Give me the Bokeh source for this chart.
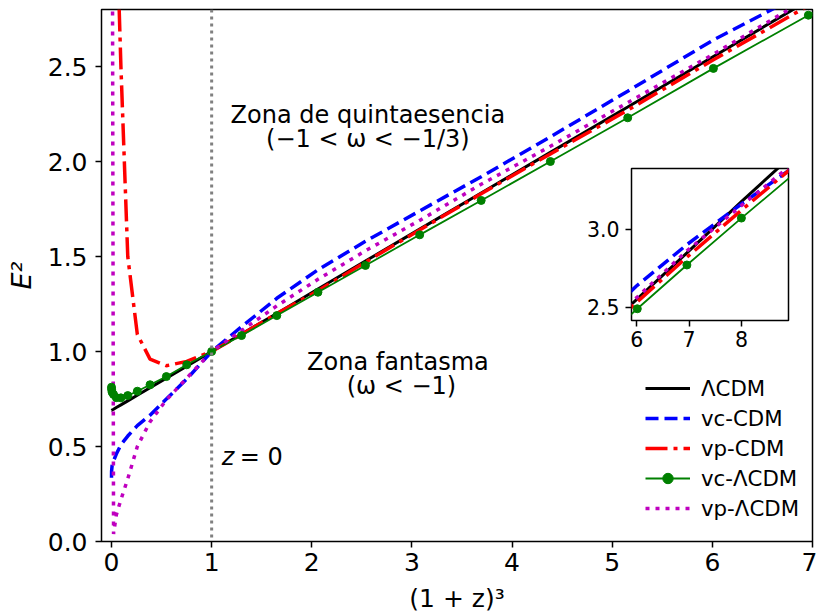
from bokeh.plotting import figure
from bokeh.models import Range1d, FixedTicker, Span, Label, Legend, LegendItem, PrintfTickFormatter
from bokeh.layouts import column
from bokeh.embed import file_html
from bokeh.resources import INLINE

# ---------------- data ----------------
x_grid = [0.0, 0.00075, 0.006, 0.0203, 0.0481, 0.0939, 0.1623, 0.2577, 0.3847,
          0.5477, 0.7513, 1.0, 1.2983, 1.6506, 2.0616, 2.5356, 3.0774, 3.6915,
          4.3824, 5.1547, 6.0105, 6.9587, 8.0, 9.1405]
e2_lcdm = [0.69, 0.69, 0.692, 0.696, 0.705, 0.719, 0.74, 0.77, 0.809, 0.86, 0.923,
           1.0, 1.092, 1.2, 1.329, 1.476, 1.644, 1.834, 2.048, 2.287, 2.553, 2.847,
           3.175, 3.524]
e2_vc_cdm = [0.335, 0.37, 0.40, 0.425, 0.46, 0.51, 0.555, 0.61, 0.665, 0.75, 0.855,
             1.0, 1.13, 1.28, 1.43, 1.58, 1.74, 1.92, 2.13, 2.37, 2.64, 2.90, 3.16, 3.43]
e2_vp_cdm = [300.0, 40.0, 12.0, 6.0, 3.3, 2.5, 1.5, 1.09, 0.96, 0.925, 0.948,
             1.0, 1.09, 1.20, 1.32, 1.47, 1.64, 1.83, 2.04, 2.27, 2.535, 2.82, 3.12, 3.44]
e2_vc_lcdm = [0.812, 0.80, 0.786, 0.774, 0.757, 0.756, 0.768, 0.791, 0.825, 0.868, 0.93,
              1.0, 1.084, 1.189, 1.312, 1.453, 1.614, 1.795, 2.0, 2.23, 2.49, 2.77,
              3.07, 3.39]
e2_vp_lcdm = [50.0, 20.0, 4.0, 0.04, 0.14, 0.22, 0.33, 0.5, 0.63, 0.745, 0.86,
              1.0, 1.11, 1.24, 1.38, 1.53, 1.69, 1.88, 2.08, 2.31, 2.565, 2.86, 3.15, 3.46]

x_ticks_main = [0, 1, 2, 3, 4, 5, 6, 7]
y_ticks_main = [0.0, 0.5, 1.0, 1.5, 2.0, 2.5]
x_ticks_inset = [6, 7, 8]
y_ticks_inset = [2.5, 3.0]
legend_labels = ["ΛCDM", "vc-CDM", "vp-CDM", "vc-ΛCDM", "vp-ΛCDM"]
z0_position = 1.0

FONT = "DejaVu Sans"

series = [
    (e2_lcdm, dict(line_color="black", line_width=3)),
    (e2_vc_cdm, dict(line_color="#0000ff", line_width=3.5, line_dash="13 6")),
    (e2_vp_cdm, dict(line_color="#ff0000", line_width=3.5, line_dash="22 6 4 6")),
    (e2_vc_lcdm, dict(line_color="#008000", line_width=1.8)),
    (e2_vp_lcdm, dict(line_color="#bf00bf", line_width=3.5, line_dash="4 6")),
]


def style(fig, tick_size, xt, yt):
    fig.grid.grid_line_color = None
    fig.outline_line_color = "black"
    fig.outline_line_width = 1.5
    fig.background_fill_color = "white"
    fig.border_fill_color = None
    for ax in (fig.xaxis[0], fig.yaxis[0]):
        ax.axis_line_color = None
        ax.major_tick_line_color = "black"
        ax.major_tick_line_width = 1.5
        ax.major_tick_out = 6
        ax.major_tick_in = 0
        ax.minor_tick_line_color = None
        ax.major_label_text_font = FONT
        ax.major_label_text_font_size = tick_size
        ax.major_label_text_color = "black"
    fig.xaxis[0].ticker = FixedTicker(ticks=xt)
    fig.yaxis[0].ticker = FixedTicker(ticks=yt)
    fig.yaxis[0].formatter = PrintfTickFormatter(format="%.1f")


def draw(fig):
    rends = []
    for ys, kw in series:
        r = fig.line(x_grid, ys, **kw)
        rends.append([r])
    m = fig.scatter(x_grid, e2_vc_lcdm, marker="circle", size=8,
                    fill_color="#008000", line_color="#008000")
    rends[3].append(m)
    return rends


# ---------------- main figure ----------------
W, H = 817, 615
p = figure(width=W, height=H, x_range=Range1d(-0.1, 7), y_range=Range1d(0, 2.8),
           output_backend="svg", toolbar_location=None,
           min_border_left=101, min_border_right=1, min_border_top=9, min_border_bottom=74)
style(p, "25px", x_ticks_main, y_ticks_main)
p.xaxis[0].major_label_standoff = 5
p.yaxis[0].major_label_standoff = 8
p.xaxis[0].axis_label = "(1 + z)³"
p.yaxis[0].axis_label = "E²"
for ax in (p.xaxis[0], p.yaxis[0]):
    ax.axis_label_text_font = FONT
    ax.axis_label_text_font_size = "25px"
    ax.axis_label_text_font_style = "normal"
    ax.axis_label_text_color = "black"
p.yaxis[0].axis_label_text_font_style = "italic"
p.yaxis[0].axis_label_text_font_size = "27px"
p.xaxis[0].axis_label_standoff = 10
p.yaxis[0].axis_label_standoff = 8

p.add_layout(Span(location=z0_position, dimension="height", line_color="#808080",
                  line_width=3, line_dash="3 4"))

rends = draw(p)

items = [LegendItem(label=lab, renderers=r) for lab, r in zip(legend_labels, rends)]
leg = Legend(items=items, location=(544, 20), padding=0, margin=0, spacing=4,
             glyph_width=45, glyph_height=26, label_height=26, label_standoff=11,
             label_text_font=FONT, label_text_font_size="21.3px", label_text_color="black",
             border_line_alpha=0, background_fill_alpha=0)
p.add_layout(leg)


def lab(x, y, text, size="24px", style="normal", align="left"):
    p.add_layout(Label(x=x, y=y, text=text, text_font=FONT, text_font_size=size,
                       text_color="black", text_font_style=style,
                       text_align=align, text_baseline="alphabetic"))


lab(2.56, 2.247, "Zona de quintaesencia", align="center")
lab(2.56, 2.121, "(−1 < ω < −1/3)", align="center")
lab(2.86, 0.944, "Zona fantasma", align="center")
lab(2.895, 0.821, "(ω < −1)", align="center")
lab(1.10, 0.444, "z", style="italic")
lab(1.28, 0.444, "= 0")

# ---------------- inset ----------------
ins = figure(width=263, height=192, x_range=Range1d(5.9, 8.9), y_range=Range1d(2.415, 3.387),
             output_backend="svg", toolbar_location=None,
             min_border_left=55, min_border_right=5, min_border_top=5, min_border_bottom=35)
style(ins, "20.5px", x_ticks_inset, y_ticks_inset)
ins.xaxis[0].major_label_standoff = 4
ins.yaxis[0].major_label_standoff = 6
draw(ins)
ins.margin = (168 - 5 - H, 0, 0, 585 - 55)

layout = column(p, ins)
open("out.html", "w").write(file_html(layout, INLINE))
